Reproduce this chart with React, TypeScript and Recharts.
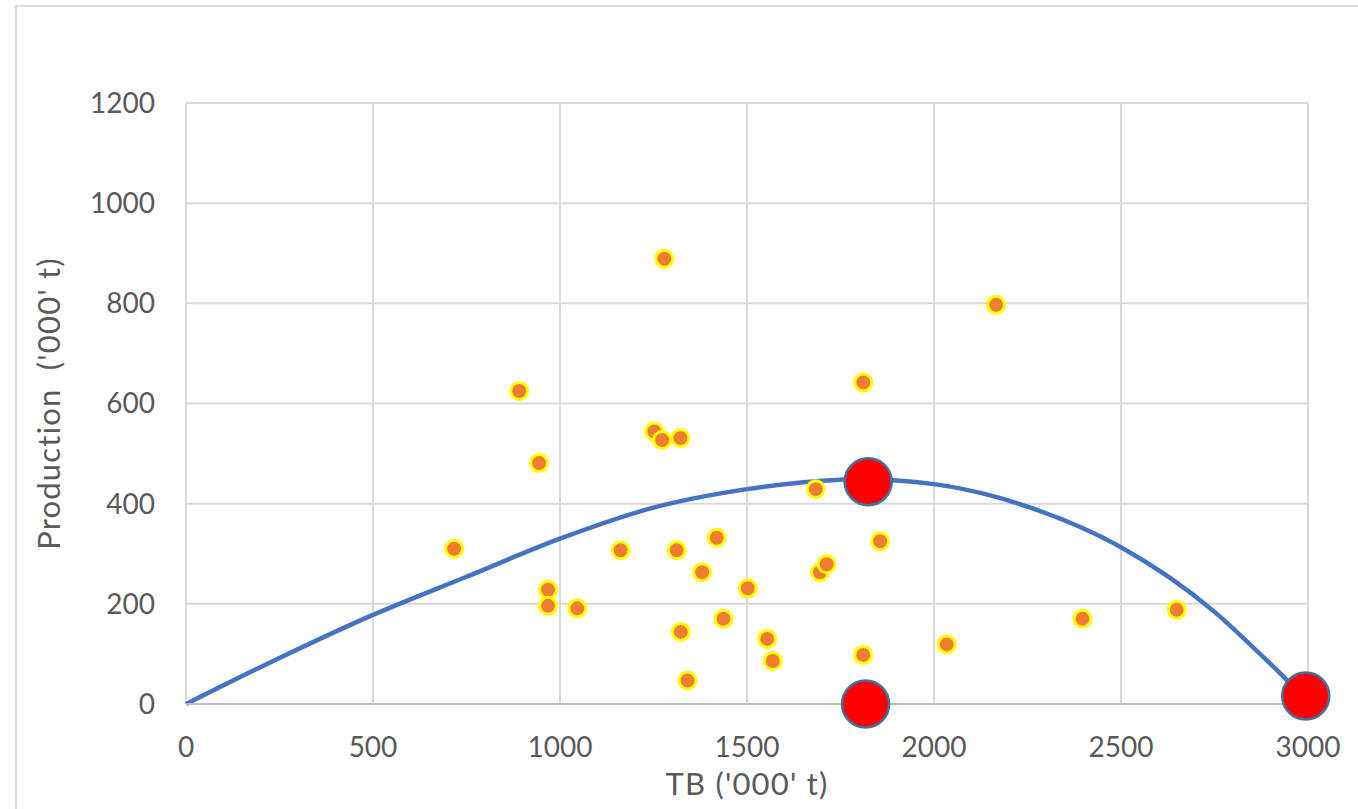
import {
  CartesianGrid,
  ComposedChart,
  Line,
  Scatter,
  XAxis,
  YAxis,
} from 'recharts'

// observed years: total biomass vs production ('000 t)
const OBS_TB = [
  717, 891, 944, 968, 968, 1046, 1162, 1279, 1252, 1273, 1322, 1312, 1323, 1341,
  1380, 1419, 1437, 1502, 1554, 1569, 1684, 1695, 1713, 1811, 1811, 1856, 2034,
  2166, 2397, 2649,
]
const OBS_PROD = [
  310, 625, 481, 228, 196, 191, 307, 889, 544, 527, 531, 307, 144, 47,
  263, 332, 170, 231, 130, 86, 429, 263, 279, 642, 98, 325, 119,
  797, 170, 188,
]

// fitted surplus-production curve
const CURVE_TB = [0, 250, 500, 750, 1000, 1250, 1500, 1750, 1800, 2000, 2168, 2250, 2500, 2750, 2880, 2943, 3000]
const CURVE_PROD = [0, 92, 178, 254, 330, 392, 429, 448, 449, 439, 413, 394, 313, 184, 94, 48, 0]

// reference points (MSY, B at MSY, K)
const REF_TB = [1824, 1817, 2994]
const REF_PROD = [444, 0, 16]

const X_TICKS = [0, 500, 1000, 1500, 2000, 2500, 3000]
const Y_TICKS = [0, 200, 400, 600, 800, 1000, 1200]

const FONT = 'Lato, "Open Sans", sans-serif'
const TEXT = '#595959'
const GRID = '#d9d9d9'

const observed = OBS_TB.map((x, i) => ({ x, y: OBS_PROD[i] }))
const curve = CURVE_TB.map((x, i) => ({ x, y: CURVE_PROD[i] }))
const refs = REF_TB.map((x, i) => ({ x, y: REF_PROD[i] }))

export default function App() {
  return (
    <div
      style={{
        position: 'absolute',
        left: 0,
        top: 0,
        width: 1358,
        height: 809,
        overflow: 'hidden',
        background: '#fff',
      }}
    >
      <div
        style={{
          position: 'absolute',
          left: 15,
          top: 5,
          width: 1500,
          height: 1000,
          border: `2px solid ${GRID}`,
        }}
      />
      <div style={{ position: 'absolute', left: 0, top: 0 }}>
        <ComposedChart
          width={1358}
          height={809}
          margin={{ top: 103, right: 50, bottom: 5, left: 86 }}
        >
          <CartesianGrid stroke={GRID} strokeWidth={2} />
          <XAxis
            type="number"
            dataKey="x"
            domain={[0, 3000]}
            ticks={X_TICKS}
            height={100}
            tickLine={false}
            tickSize={0}
            tickMargin={33}
            axisLine={{ stroke: '#bfbfbf', strokeWidth: 2 }}
            tick={{ fill: TEXT, fontSize: 28, fontFamily: FONT }}
            label={{
              value: "TB ('000' t)",
              position: 'insideBottom',
              offset: 9,
              fill: TEXT,
              fontSize: 31,
              fontFamily: FONT,
              style: { letterSpacing: 1.2 },
            }}
          />
          <YAxis
            type="number"
            dataKey="y"
            domain={[0, 1200]}
            ticks={Y_TICKS}
            width={100}
            tickLine={false}
            tickSize={0}
            tickMargin={31}
            axisLine={false}
            tick={{ fill: TEXT, fontSize: 28, fontFamily: FONT }}
            label={{
              value: 'Production\u00a0 (\'000\' t)',
              angle: -90,
              position: 'insideLeft',
              offset: -37,
              fill: TEXT,
              fontSize: 31,
              fontFamily: FONT,
              style: { textAnchor: 'middle', letterSpacing: 1.2 },
            }}
          />
          <Line
            data={curve}
            dataKey="y"
            type="monotone"
            stroke="#4472c4"
            strokeWidth={4.5}
            style={{ strokeWidth: 4.5 }}
            dot={false}
            activeDot={false}
            isAnimationActive={false}
          />
          <Scatter
            data={observed}
            dataKey="y"
            isAnimationActive={false}
            shape={(props: unknown) => {
              const { cx, cy } = props as { cx: number; cy: number }
              return (
                <circle cx={cx} cy={cy} r={8.5} fill="#ed7d31" stroke="#ffff00" strokeWidth={3} />
              )
            }}
          />
          <Scatter
            data={refs}
            dataKey="y"
            isAnimationActive={false}
            shape={(props: unknown) => {
              const { cx, cy } = props as { cx: number; cy: number }
              return (
                <circle cx={cx} cy={cy} r={23.5} fill="#ff0000" stroke="#41719c" strokeWidth={2.5} />
              )
            }}
          />
        </ComposedChart>
      </div>
    </div>
  )
}
